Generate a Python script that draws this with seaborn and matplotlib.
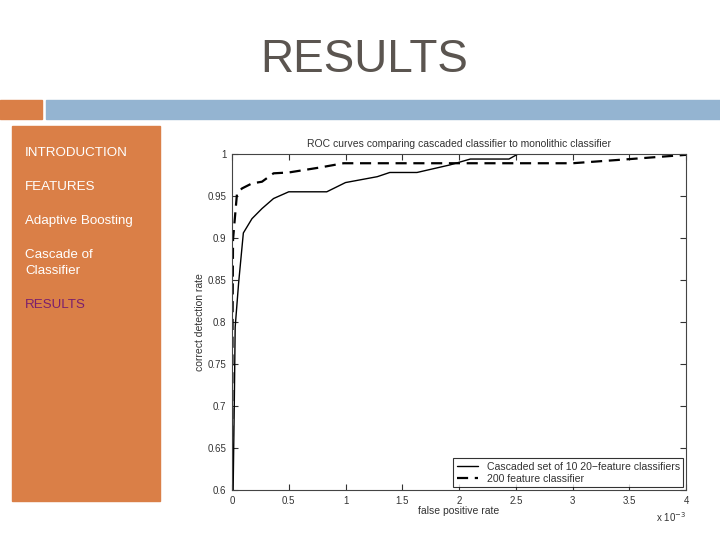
import numpy as np
import pandas as pd
import seaborn as sns
import matplotlib.pyplot as plt
from matplotlib.patches import Rectangle

sns.set_style("white")
plt.rcParams['font.family'] = ['Liberation Sans', 'DejaVu Sans']

# slide menu
menu_items = ["INTRODUCTION", "FEATURES", "Adaptive Boosting", "Cascade of\nClassifier", "RESULTS"]
menu_y = [153, 187, 221, 263, 305]

# ROC data (false positive rate in units of 1e-3)
fpr_cascade = [0.01, 0.02, 0.028, 0.058, 0.10, 0.176, 0.264, 0.366, 0.5, 0.835, 1.0, 1.28, 1.39,
               1.63, 1.92, 2.1, 2.44, 2.52, 4.0]
det_cascade = [0.60, 0.70, 0.794, 0.846, 0.906, 0.923, 0.935, 0.947, 0.955, 0.955, 0.966, 0.973, 0.978,
               0.978, 0.987, 0.994, 0.994, 1.0, 1.0]
fpr_mono = [0.0, 0.005, 0.009, 0.044, 0.088, 0.176, 0.264, 0.366, 0.5, 0.778, 0.983, 3.0, 3.51, 4.0]
det_mono = [0.60, 0.80, 0.898, 0.953, 0.959, 0.965, 0.967, 0.977, 0.978, 0.984, 0.989, 0.989, 0.994, 0.999]

W, H = 720, 540
fig = plt.figure(figsize=(7.2, 5.4), dpi=100)
fig.patch.set_facecolor("white")


def px_rect(x0, y0, x1, y1, color):
    fig.patches.append(Rectangle((x0 / W, 1 - y1 / H), (x1 - x0) / W, (y1 - y0) / H,
                                 transform=fig.transFigure, color=color, zorder=0))


orange = "#DA7F47"
px_rect(0, 100, 42, 119, orange)
px_rect(46, 100, 720, 119, "#94B4D1")
px_rect(12, 126, 160, 501, orange)

fig.text(364 / W, 1 - 60 / H, "RESULTS", fontsize=33, color="#5B5550", ha="center", va="center")
for item, y in zip(menu_items, menu_y):
    col = "#7A1F6E" if item == "RESULTS" else "white"
    fig.text(25 / W, 1 - y / H, item, fontsize=9.6, color=col, ha="left", va="center",
             linespacing=1.45)

# chart
ax = fig.add_axes([232 / W, 1 - 490 / H, (686 - 232) / W, (490 - 154) / H])
df_c = pd.DataFrame({"fpr": fpr_cascade, "det": det_cascade})
df_m = pd.DataFrame({"fpr": fpr_mono, "det": det_mono})
sns.lineplot(data=df_c, x="fpr", y="det", ax=ax, color="black", lw=1.0, sort=False,
             estimator=None, label="Cascaded set of 10 20\u2212feature classifiers")
sns.lineplot(data=df_m, x="fpr", y="det", ax=ax, color="black", lw=1.6, sort=False,
             estimator=None, label="200 feature classifier")
ax.lines[1].set_dashes([5, 3])

ax.set_xlim(0, 4)
ax.set_ylim(0.6, 1.0)
ax.set_xticks(np.arange(0, 4.01, 0.5))
ax.set_yticks(np.arange(0.6, 1.001, 0.05))
ax.set_xticklabels(["0", "0.5", "1", "1.5", "2", "2.5", "3", "3.5", "4"])
ax.set_yticklabels(["0.6", "0.65", "0.7", "0.75", "0.8", "0.85", "0.9", "0.95", "1"])
ax.tick_params(direction="in", length=4, width=0.8, top=True, right=True, left=True,
               bottom=True, labelsize=7, colors="#333333", pad=4)
for s in ax.spines.values():
    s.set_color("#444444")
    s.set_linewidth(0.8)
ax.set_xlabel("false positive rate", fontsize=7.5, color="#333333", labelpad=0)
ax.set_ylabel("correct detection rate", fontsize=7.5, color="#333333", labelpad=2)
ax.set_title("ROC curves comparing cascaded classifier to monolithic classifier",
             fontsize=7.5, color="#333333", pad=5)
ax.text(1.0, -0.06, r"x 10$^{-3}$", transform=ax.transAxes, fontsize=7,
        color="#333333", ha="right", va="top")
leg = ax.legend(loc="lower right", fontsize=7.6, frameon=True, fancybox=False,
                handlelength=2.0, borderpad=0.35, labelspacing=0.15, borderaxespad=0.25)
leg.get_frame().set_edgecolor("black")
leg.get_frame().set_linewidth(0.8)
for t in leg.get_texts():
    t.set_color("#333333")

fig.savefig("out.png", dpi=100)
